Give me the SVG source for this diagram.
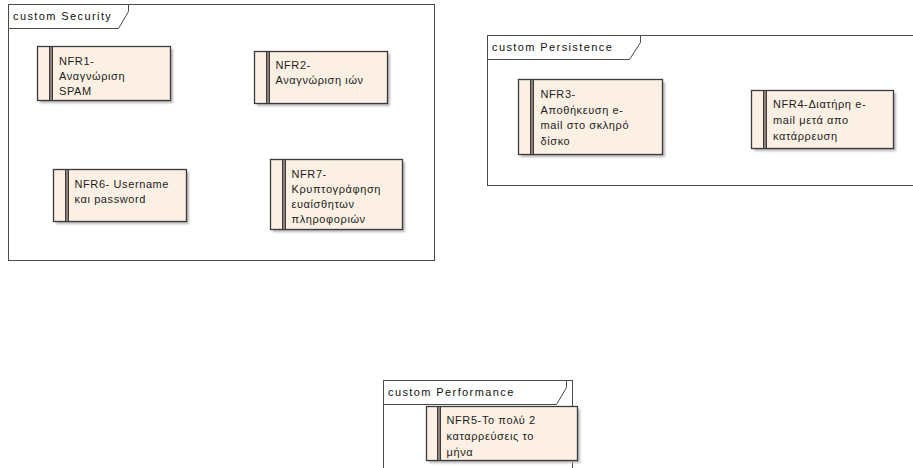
<svg xmlns="http://www.w3.org/2000/svg" width="913" height="468" viewBox="0 0 913 468">
  <defs>
    <filter id="soft" x="-10%" y="-10%" width="120%" height="120%">
      <feGaussianBlur stdDeviation="1"/>
    </filter>
    <style>
      .frame{fill:none;stroke:#4a4a4a;stroke-width:1}
      .tab{fill:#ffffff;stroke:#4a4a4a;stroke-width:1}
      .flbl{font-family:"Liberation Sans",Arial,sans-serif;font-size:11px;fill:#111;letter-spacing:1.4px}
      .shadow{fill:#b5b5b5;filter:url(#soft)}
      .box{fill:#fbf0e3;stroke:#3a3a3a;stroke-width:1.3}
      .bar{fill:#8a8077;stroke:#3a3a3a;stroke-width:1}
      .txt{font-family:"Liberation Sans","DejaVu Sans",Arial,sans-serif;font-size:11px;fill:#1c1c1c;letter-spacing:0.6px}
    </style>
  </defs>
  <rect width="913" height="468" fill="#ffffff"/>

  <!-- package frames -->
  <g id="frame-security">
    <rect class="frame" x="8.5" y="4.5" width="426" height="256"/>
    <path class="tab" d="M8.5 28.5 H118.5 L128.5 11.5 V4.5 H8.5 Z"/>
    <text class="flbl" x="13" y="20">custom Security</text>
  </g>
  <g id="frame-persistence">
    <rect class="frame" x="487.5" y="35.5" width="440" height="150"/>
    <path class="tab" d="M487.5 59.5 H629.5 L640.5 42.5 V35.5 H487.5 Z"/>
    <text class="flbl" x="492" y="51">custom Persistence</text>
  </g>
  <g id="frame-performance">
    <rect class="frame" x="383.5" y="380.5" width="189" height="100"/>
    <path class="tab" d="M383.5 404.5 H556.5 L566.5 387.5 V380.5 H383.5 Z"/>
    <text class="flbl" x="388" y="396">custom Performance</text>
  </g>

  <!-- requirement nodes -->
  <g id="nfr1">
    <rect class="shadow" x="40" y="49" width="133" height="54"/>
    <rect class="box" x="37.5" y="46.5" width="133" height="54"/>
    <rect class="bar" x="49.5" y="46.5" width="3" height="54"/>
    <text class="txt" x="59" y="65">NFR1-</text>
    <text class="txt" x="59" y="80">Αναγνώριση</text>
    <text class="txt" x="59" y="95">SPAM</text>
  </g>
  <g id="nfr2">
    <rect class="shadow" x="257" y="54" width="133" height="52"/>
    <rect class="box" x="254.5" y="51.5" width="133" height="52"/>
    <rect class="bar" x="266.5" y="51.5" width="3" height="52"/>
    <text class="txt" x="275.5" y="69">NFR2-</text>
    <text class="txt" x="275.5" y="84">Αναγνώριση ιών</text>
  </g>
  <g id="nfr6">
    <rect class="shadow" x="56" y="172" width="133" height="52"/>
    <rect class="box" x="53.5" y="169.5" width="133" height="52"/>
    <rect class="bar" x="65.5" y="169.5" width="3" height="52"/>
    <text class="txt" x="74.5" y="188">NFR6- Username</text>
    <text class="txt" x="74.5" y="203">και password</text>
  </g>
  <g id="nfr7">
    <rect class="shadow" x="273" y="162" width="132" height="70"/>
    <rect class="box" x="270.5" y="159.5" width="132" height="70"/>
    <rect class="bar" x="282.5" y="159.5" width="3" height="70"/>
    <text class="txt" x="291.5" y="178">NFR7-</text>
    <text class="txt" x="291.5" y="193">Κρυπτογράφηση</text>
    <text class="txt" x="291.5" y="208">ευαίσθητων</text>
    <text class="txt" x="291.5" y="223">πληροφοριών</text>
  </g>
  <g id="nfr3">
    <rect class="shadow" x="521" y="82" width="144" height="75"/>
    <rect class="box" x="518.5" y="79.5" width="144" height="75"/>
    <rect class="bar" x="530.5" y="79.5" width="3" height="75"/>
    <text class="txt" x="540.5" y="98">NFR3-</text>
    <text class="txt" x="540.5" y="113.5">Αποθήκευση e-</text>
    <text class="txt" x="540.5" y="129">mail στο σκληρό</text>
    <text class="txt" x="540.5" y="144.5">δίσκο</text>
  </g>
  <g id="nfr4">
    <rect class="shadow" x="754" y="93" width="142" height="58"/>
    <rect class="box" x="751.5" y="90.5" width="142" height="58"/>
    <rect class="bar" x="763.5" y="90.5" width="3" height="58"/>
    <text class="txt" x="773" y="108">NFR4-Διατήρη e-</text>
    <text class="txt" x="773" y="124">mail μετά απο</text>
    <text class="txt" x="773" y="140">κατάρρευση</text>
  </g>
  <g id="nfr5">
    <rect class="shadow" x="429" y="409" width="151" height="54"/>
    <rect class="box" x="426.5" y="406.5" width="151" height="54"/>
    <rect class="bar" x="437.5" y="406.5" width="3" height="54"/>
    <text class="txt" x="446.5" y="424">NFR5-Το πολύ 2</text>
    <text class="txt" x="446.5" y="440">καταρρεύσεις το</text>
    <text class="txt" x="446.5" y="456">μήνα</text>
  </g>

  <!-- no connectors in this diagram -->
  <g id="connectors"/>
</svg>
